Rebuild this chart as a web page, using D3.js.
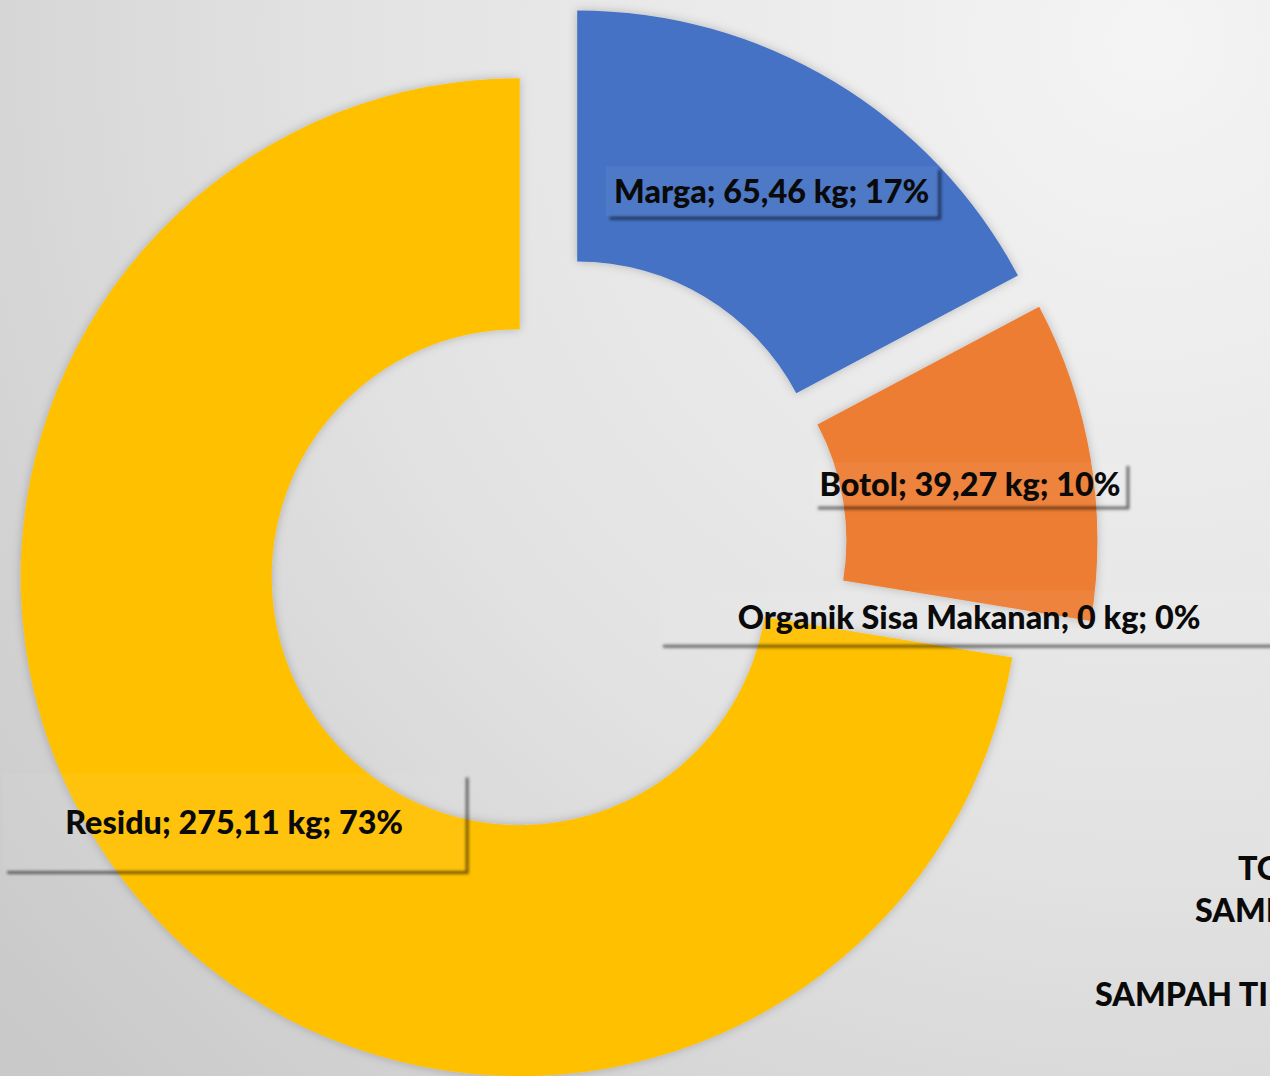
<!DOCTYPE html>
<html lang="id">
<head>
  <meta charset="UTF-8">
  <title>Komposisi Sampah</title>
  <style>
    html, body { margin: 0; padding: 0; overflow: hidden; }
    .labels { font-family: Lato, "Open Sans", sans-serif; font-weight: 900; fill: #0a0a0a; }
  </style>
</head>
<body>
  <script src="https://d3js.org/d3.v7.min.js"></script>
  <script>
    // data
    const categories = ['Marga', 'Botol', 'Organik Sisa Makanan', 'Residu'];
    const weights = [65.46, 39.27, 0, 275.11];
    const percentLabels = ['17%', '10%', '0%', '73%'];
    const colors = ['#4472C4', '#ED7D31', '#A5A5A5', '#FFC000'];
    const sideTexts = ['TOTAL', 'SAMPAH', 'SAMPAH TIDAK TERKELOLA'];

    const WIDTH = 1270;
    const HEIGHT = 1076;
    const CX = 554, CY = 548;
    const OUTER = 499, INNER = 248;
    const EXPLODE = 45;
    const FONT = 33;
    const SQUEEZE = 0.98; // narrows the font a bit (calibri-ish)

    // label box per slice: offset of the text from the centroid + box size
    const labelLayout = [
      { dx: 2, dy: 2, w: 332, h: 50 },
      { dx: 3, dy: 4, w: 312, h: 44 },
      { dx: 2, dy: 2, w: 620, h: 54 },
      { dx: -1, dy: 3, w: 462, h: 97 }
    ];

    const fmt = (v) => String(v).replace('.', ',');

    const svg = d3.select('body').append('svg')
      .attr('width', WIDTH)
      .attr('height', HEIGHT);

    const defs = svg.append('defs');
    const bg = defs.append('radialGradient')
      .attr('id', 'bg')
      .attr('gradientUnits', 'userSpaceOnUse')
      .attr('cx', 1150).attr('cy', 40).attr('r', 1500);
    bg.append('stop').attr('offset', '0%').attr('stop-color', '#f4f4f4');
    bg.append('stop').attr('offset', '55%').attr('stop-color', '#e2e2e2');
    bg.append('stop').attr('offset', '100%').attr('stop-color', '#c9c9c9');

    const sliceShadow = defs.append('filter').attr('id', 'sliceShadow')
      .attr('x', '-10%').attr('y', '-10%').attr('width', '120%').attr('height', '120%');
    sliceShadow.append('feDropShadow')
      .attr('dx', 0).attr('dy', 0).attr('stdDeviation', 5)
      .attr('flood-color', '#000').attr('flood-opacity', 0.22);

    const lineBlur = defs.append('filter').attr('id', 'lineBlur')
      .attr('x', '-5%').attr('y', '-50%').attr('width', '110%').attr('height', '200%');
    lineBlur.append('feGaussianBlur').attr('stdDeviation', 1.4);

    svg.append('rect')
      .attr('width', WIDTH).attr('height', HEIGHT)
      .attr('fill', 'url(#bg)');

    const pie = d3.pie().sort(null).value((d) => d);
    const arcs = pie(weights);

    const arc = d3.arc().innerRadius(INNER).outerRadius(OUTER);
    const labelArc = d3.arc().innerRadius((INNER + OUTER) / 2).outerRadius((INNER + OUTER) / 2);

    // every slice is pulled out along its bisector
    const shift = (d) => {
      const mid = (d.startAngle + d.endAngle) / 2;
      return [CX + EXPLODE * Math.sin(mid), CY - EXPLODE * Math.cos(mid)];
    };

    svg.append('g')
      .selectAll('path')
      .data(arcs)
      .enter()
      .append('path')
        .attr('transform', (d) => `translate(${shift(d)})`)
        .attr('d', arc)
        .attr('fill', (d, i) => colors[i])
        .attr('filter', 'url(#sliceShadow)');

    // data labels with their box shadow (bottom + right edge)
    const labels = svg.append('g')
      .selectAll('g')
      .data(arcs)
      .enter()
      .append('g')
        .attr('transform', (d, i) => {
          const [sx, sy] = shift(d);
          const [lx, ly] = labelArc.centroid(d);
          return `translate(${sx + lx + labelLayout[i].dx},${sy + ly + labelLayout[i].dy})`;
        });

    labels.append('path')
      .attr('d', (d, i) => {
        const w = labelLayout[i].w, h = labelLayout[i].h;
        return `M${-w / 2 + 4},${h / 2 + 2}H${w / 2 + 2}V${-h / 2 + 4}`;
      })
      .attr('fill', 'none')
      .attr('stroke', '#000')
      .attr('stroke-opacity', 0.55)
      .attr('stroke-width', 3)
      .attr('filter', 'url(#lineBlur)');

    labels.append('rect')
      .attr('x', (d, i) => -labelLayout[i].w / 2)
      .attr('y', (d, i) => -labelLayout[i].h / 2)
      .attr('width', (d, i) => labelLayout[i].w)
      .attr('height', (d, i) => labelLayout[i].h)
      .attr('fill', '#ffffff')
      .attr('fill-opacity', 0.05);

    labels.append('text')
      .classed('labels', true)
      .attr('text-anchor', 'middle')
      .attr('dy', '0.36em')
      .attr('transform', `scale(${SQUEEZE},1)`)
      .style('font-size', `${FONT}px`)
      .text((d, i) => `${categories[i]}; ${fmt(weights[i])} kg; ${percentLabels[i]}`);

    // cut-off text on the right edge, as in the source slide
    const sideX = [1238, 1195, 1095];
    const sideY = [880, 922, 1006];
    svg.append('g')
      .selectAll('text')
      .data(sideTexts)
      .enter()
      .append('text')
        .classed('labels', true)
        .attr('transform', (d, i) => `translate(${sideX[i]},${sideY[i]}) scale(${SQUEEZE},1)`)
        .style('font-size', `${FONT}px`)
        .text((d) => d);
  </script>
</body>
</html>
